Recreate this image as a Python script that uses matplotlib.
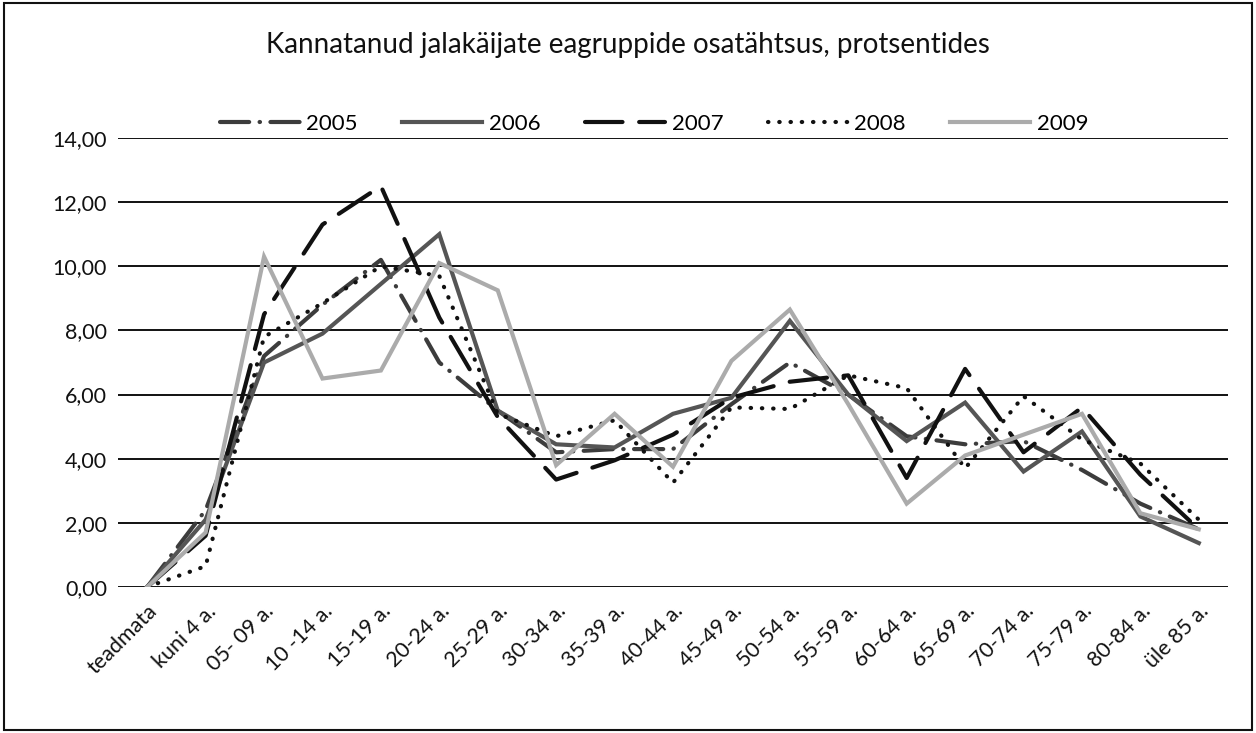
"""Share of injured pedestrians by age group (percent), 2005-2009.

Line chart recreated from a scanned Excel figure: five years, one line each,
drawn against 19 age-group categories.
"""

import matplotlib

matplotlib.use("Agg")  # headless: write PNG only
import matplotlib.pyplot as plt
from matplotlib.patches import Rectangle
from matplotlib.ticker import FuncFormatter

TITLE = "Kannatanud jalakäijate eagruppide osatähtsus, protsentides"

AGE_GROUPS = [
    "teadmata", "kuni 4 a.", "05- 09 a.", "10 -14 a.", "15-19 a.", "20-24 a.",
    "25-29 a.", "30-34 a.", "35-39 a.", "40-44 a.", "45-49 a.", "50-54 a.",
    "55-59 a.", "60-64 a.", "65-69 a.", "70-74 a.", "75-79 a.", "80-84 a.",
    "üle 85 a.",
]

# values (percent)
Y2005 = [0.0, 2.4, 7.2, 8.8, 10.2, 7.0, 5.5, 4.2, 4.3, 4.3, 5.7, 7.0, 6.0, 4.7, 4.45, 4.55, 3.65, 2.6, 1.8]
Y2006 = [0.0, 2.1, 7.0, 7.9, 9.45, 11.0, 5.5, 4.45, 4.35, 5.4, 5.9, 8.3, 6.0, 4.55, 5.75, 3.6, 4.85, 2.2, 1.37]
Y2007 = [0.0, 1.6, 8.5, 11.3, 12.5, 8.4, 5.3, 3.35, 3.95, 4.75, 5.9, 6.4, 6.6, 3.4, 6.8, 4.2, 5.6, 3.5, 1.8]
Y2008 = [0.0, 0.65, 7.8, 8.85, 10.0, 9.7, 5.4, 4.7, 5.2, 3.25, 5.6, 5.55, 6.6, 6.2, 3.7, 5.95, 4.6, 3.85, 2.1]
Y2009 = [0.0, 1.7, 10.3, 6.5, 6.75, 10.1, 9.25, 3.8, 5.4, 3.75, 7.05, 8.65, 5.7, 2.6, 4.1, 4.75, 5.4, 2.3, 1.8]

Y_TICKS = [0, 2, 4, 6, 8, 10, 12, 14]

# (label, values, colour, dash pattern or None for solid)
SERIES = [
    ("2005", Y2005, "#3c3c3c", (7, 2.5, 0.1, 2.5)),
    ("2006", Y2006, "#555555", None),
    ("2007", Y2007, "#111111", (9, 4)),
    ("2008", Y2008, "#111111", (0.1, 2.6)),
    ("2009", Y2009, "#ababab", None),
]


def _comma(v, _pos):
    return f"{v:.2f}".replace(".", ",")


def main() -> None:
    plt.rcParams["font.family"] = ["Lato", "DejaVu Sans"]

    fig = plt.figure(figsize=(12.56, 7.33), dpi=100)
    ax = fig.add_axes((118 / 1256, 1 - 587 / 733, 1110 / 1256, 449 / 733))

    xs = list(range(len(AGE_GROUPS)))
    for label, ys, color, dashes in SERIES:
        (line,) = ax.plot(xs, ys, color=color, linewidth=3.0, label=label,
                          solid_joinstyle="miter", dash_capstyle="round")
        if dashes is not None:
            line.set_dashes(dashes)

    ax.set_xlim(-0.5, len(AGE_GROUPS) - 0.5)
    ax.set_ylim(0, 14)
    ax.set_yticks(Y_TICKS)
    ax.yaxis.set_major_formatter(FuncFormatter(_comma))
    ax.set_xticks(xs)
    ax.set_xticklabels(AGE_GROUPS, rotation=45, ha="right", rotation_mode="anchor")
    ax.tick_params(axis="both", length=0, labelsize=15.5, colors="#111111")
    ax.tick_params(axis="x", pad=10)
    ax.tick_params(axis="y", pad=8)

    ax.grid(axis="y", color="#111111", linewidth=1.4)
    ax.set_axisbelow(True)
    for side in ("left", "right", "top", "bottom"):
        ax.spines[side].set_visible(False)

    fig.text(0.5, 1 - 45 / 733, TITLE, ha="center", va="center", fontsize=20, color="#111111")

    fig.legend(loc="center", bbox_to_anchor=(654 / 1256, 1 - 124 / 733), ncol=5,
               frameon=False, fontsize=16, handlelength=3.6, handletextpad=0.3,
               columnspacing=2.0)

    # thin frame round the whole picture, as in the scan
    fig.patches.append(Rectangle((0.003, 0.004), 0.994, 0.992, transform=fig.transFigure,
                                 fill=False, edgecolor="#111111", linewidth=1.5))

    fig.savefig("out.png", dpi=100)
    plt.close(fig)


if __name__ == "__main__":
    main()
